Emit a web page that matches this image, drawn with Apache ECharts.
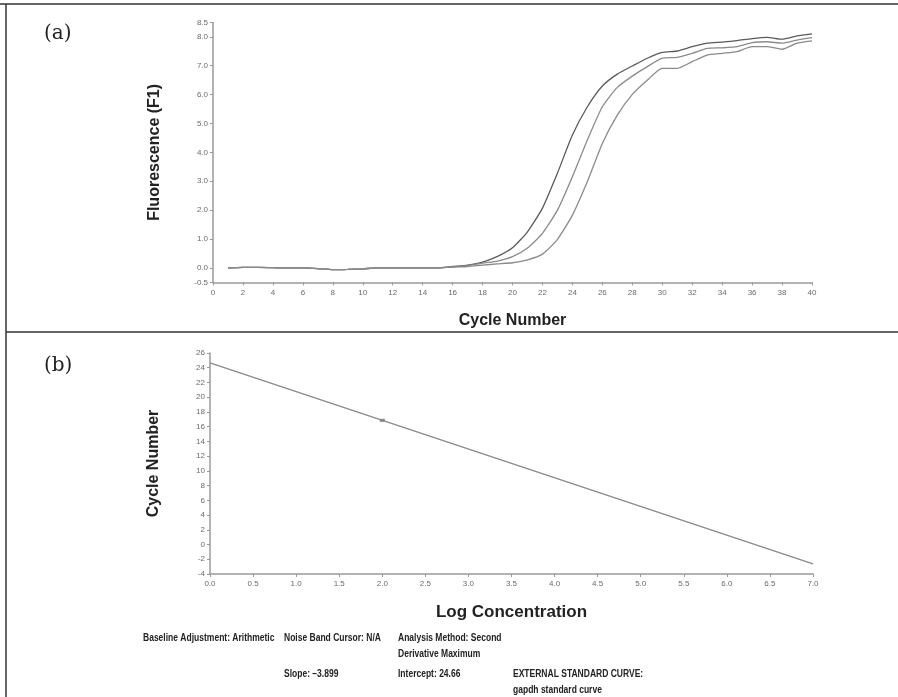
<!DOCTYPE html>
<html>
<head>
<meta charset="utf-8">
<script src="https://cdn.jsdelivr.net/npm/echarts@6/dist/echarts.min.js"></script>
<style>html,body{margin:0;padding:0;background:#fff;}#c{width:898px;height:697px;}</style>
</head>
<body>
<div id="c"></div>
<script>
// ---- Panel (a): amplification curves ----
var cycles = [1,2,3,4,5,6,7,8,9,10,11,12,13,14,15,16,17,18,19,20,21,22,23,24,25,26,27,28,29,30,31,32,33,34,35,36,37,38,39,40];
var curveA = [0.00,0.02,0.02,0.01,0.00,0.00,-0.02,-0.06,-0.05,-0.03,0.00,0.00,0.00,0.00,0.00,0.05,0.10,0.20,0.40,0.70,1.25,2.07,3.28,4.60,5.58,6.30,6.71,6.99,7.26,7.46,7.51,7.66,7.78,7.82,7.87,7.94,7.98,7.92,8.03,8.10];
var curveB = [0.00,0.02,0.02,0.01,0.00,0.00,-0.02,-0.06,-0.05,-0.03,0.00,0.00,0.00,0.00,0.00,0.04,0.08,0.17,0.24,0.39,0.69,1.20,2.00,3.16,4.43,5.58,6.25,6.64,6.97,7.26,7.29,7.43,7.60,7.62,7.66,7.80,7.83,7.78,7.89,7.97];
var curveC = [0.00,0.02,0.02,0.01,0.00,0.00,-0.02,-0.06,-0.05,-0.03,0.00,0.00,0.00,0.00,0.00,0.03,0.05,0.10,0.14,0.18,0.28,0.48,0.99,1.83,2.99,4.31,5.29,6.01,6.50,6.91,6.91,7.14,7.37,7.43,7.49,7.66,7.66,7.57,7.78,7.86];
var fluorTicks = [-0.5,0,1,2,3,4,5,6,7,8,8.5];

// ---- Panel (b): standard curve ----
var fitX = [0, 7];
var fitY = [24.66, -2.63];
var stdX = [2.0];
var stdY = [16.86];

// ---- Footer texts ----
var footRow1 = ['Baseline Adjustment: Arithmetic', 'Noise Band Cursor: N/A', 'Analysis Method: Second\nDerivative Maximum'];
var footRow2 = ['Slope: \u20133.899', 'Intercept: 24.66', 'EXTERNAL STANDARD CURVE:\ngapdh standard curve'];

function pairs(xs, ys){ return xs.map(function(x,i){ return [x, ys[i]]; }); }

var chart = echarts.init(document.getElementById('c'), null, {renderer:'canvas'});
var sans = 'Arial, "Liberation Sans", sans-serif';
var tickLabelStyle = {color:'#6a6a6a', fontSize:8, fontFamily:sans};
var axisLineStyle = {show:true, onZero:false, lineStyle:{color:'#9a9a9a', width:1.5}};
var tickStyle = {show:true, length:3, lineStyle:{color:'#999', width:1}};
var footStyle = {fill:'#222', fontSize:11.5, fontWeight:'bold', fontFamily:sans, lineHeight:16, textAlign:'left', textVerticalAlign:'top'};
function foot(x, y, t){ return {type:'text', x:x, y:y, scaleX:0.74, style:Object.assign({text:t}, footStyle)}; }

chart.setOption({
  animation:false,
  backgroundColor:'#fff',
  grid:[
    {left:213, top:22.4, width:599, height:260},
    {left:210, top:353, width:603, height:221}
  ],
  xAxis:[
    {gridIndex:0, type:'value', min:0, max:40, interval:2,
     name:'Cycle Number', nameLocation:'middle', nameGap:30,
     nameTextStyle:{fontSize:16, fontWeight:'bold', color:'#222', fontFamily:sans},
     axisLine:axisLineStyle, axisTick:tickStyle, splitLine:{show:false},
     axisLabel:Object.assign({margin:6}, tickLabelStyle)},
    {gridIndex:1, type:'value', min:0, max:7, interval:0.5,
     name:'Log Concentration', nameLocation:'middle', nameGap:30,
     nameTextStyle:{fontSize:17, fontWeight:'bold', color:'#222', fontFamily:sans},
     axisLine:axisLineStyle, axisTick:tickStyle, splitLine:{show:false},
     axisLabel:Object.assign({margin:6, formatter:function(v){return v.toFixed(1);}}, tickLabelStyle)}
  ],
  yAxis:[
    {gridIndex:0, type:'value', min:-0.5, max:8.5,
     name:'Fluorescence (F1)', nameLocation:'middle', nameGap:50,
     nameTextStyle:{fontSize:16, fontWeight:'bold', color:'#222', fontFamily:sans},
     axisLine:axisLineStyle, splitLine:{show:false},
     axisTick:Object.assign({customValues:fluorTicks}, tickStyle),
     axisLabel:Object.assign({margin:5, customValues:fluorTicks, formatter:function(v){return v.toFixed(1);}}, tickLabelStyle)},
    {gridIndex:1, type:'value', min:-4, max:26, interval:2,
     name:'Cycle Number', nameLocation:'middle', nameGap:48,
     nameTextStyle:{fontSize:16, fontWeight:'bold', color:'#222', fontFamily:sans},
     axisLine:axisLineStyle, axisTick:tickStyle, splitLine:{show:false},
     axisLabel:Object.assign({margin:5}, tickLabelStyle)}
  ],
  series:[
    {type:'line', xAxisIndex:0, yAxisIndex:0, data:pairs(cycles, curveA), showSymbol:false, smooth:0.2,
     lineStyle:{color:'#5a5a5a', width:1.3}},
    {type:'line', xAxisIndex:0, yAxisIndex:0, data:pairs(cycles, curveB), showSymbol:false, smooth:0.2,
     lineStyle:{color:'#8a8a8a', width:1.3}},
    {type:'line', xAxisIndex:0, yAxisIndex:0, data:pairs(cycles, curveC), showSymbol:false, smooth:0.2,
     lineStyle:{color:'#8a8a8a', width:1.3}},
    {type:'line', xAxisIndex:1, yAxisIndex:1, data:pairs(fitX, fitY), showSymbol:false,
     lineStyle:{color:'#8c8c8c', width:1.4}},
    {type:'scatter', xAxisIndex:1, yAxisIndex:1, data:pairs(stdX, stdY), symbol:'rect', symbolSize:[5,3],
     itemStyle:{color:'#666'}}
  ],
  graphic:[
    {type:'line', shape:{x1:0, y1:4, x2:898, y2:4}, style:{stroke:'#333', lineWidth:1.5}},
    {type:'line', shape:{x1:6, y1:4, x2:6, y2:697}, style:{stroke:'#333', lineWidth:1.5}},
    {type:'line', shape:{x1:6, y1:332, x2:898, y2:332}, style:{stroke:'#333', lineWidth:1.5}},
    {type:'text', left:44, top:24, style:{text:'(a)', fill:'#222', fontSize:20, fontFamily:"'DejaVu Serif','Liberation Serif',serif"}},
    {type:'text', left:44, top:356, style:{text:'(b)', fill:'#222', fontSize:20, fontFamily:"'DejaVu Serif','Liberation Serif',serif"}},
    foot(143, 630, footRow1[0]),
    foot(284, 630, footRow1[1]),
    foot(398, 630, footRow1[2]),
    foot(284, 666, footRow2[0]),
    foot(398, 666, footRow2[1]),
    foot(513, 666, footRow2[2])
  ]
});
</script>
</body>
</html>
